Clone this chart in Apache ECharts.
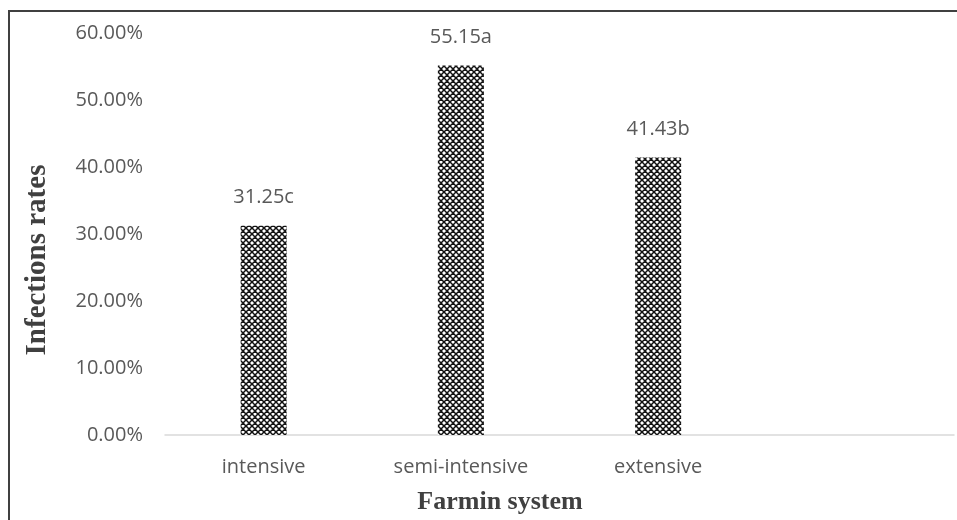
<!DOCTYPE html>
<html>
<head>
<meta charset="utf-8">
<style>
  html, body { margin: 0; padding: 0; background: #ffffff; }
  #chart { width: 957px; height: 520px; }
</style>
<script src="https://cdn.jsdelivr.net/npm/echarts@6/dist/echarts.min.js"></script>
</head>
<body>
<div id="chart"></div>
<script>
// Farming systems (the fourth slot is left empty on the axis)
const categories = ['intensive', 'semi-intensive', 'extensive', ''];
// Infection rate per system, in percent
const rates = [31.25, 55.15, 41.43, null];
// Significance letters shown after each value
const letters = ['c', 'a', 'b', ''];
// Value-axis ticks
const yTicks = [0, 10, 20, 30, 40, 50, 60];

// Diamond cross-hatch fill for the bars
function hatchPattern() {
  const c = document.createElement('canvas');
  c.width = 6; c.height = 6;
  const g = c.getContext('2d');
  g.fillStyle = '#ffffff';
  g.fillRect(0, 0, 6, 6);
  g.strokeStyle = '#111111';
  g.lineWidth = 1.5;
  g.beginPath();
  g.moveTo(-1, -1); g.lineTo(7, 7);
  g.moveTo(-1, 7); g.lineTo(7, -1);
  g.moveTo(-4, 2); g.lineTo(2, 8);
  g.moveTo(4, -4); g.lineTo(10, 2);
  g.moveTo(-4, 4); g.lineTo(4, -4);
  g.moveTo(2, 10); g.lineTo(10, 2);
  g.stroke();
  return c;
}

const textGrey = '#595959';
const chart = echarts.init(document.getElementById('chart'), null, { renderer: 'canvas' });

chart.setOption({
  animation: false,
  backgroundColor: '#ffffff',
  grid: { left: 165, right: 3, top: 33, bottom: 85, containLabel: false },
  xAxis: {
    type: 'category',
    data: categories,
    axisLine: { show: true, lineStyle: { color: '#d9d9d9', width: 1.5 } },
    axisTick: { show: false },
    axisLabel: { color: textGrey, fontFamily: 'Open Sans', fontSize: 20, margin: 22 },
    splitLine: { show: false }
  },
  yAxis: {
    type: 'value',
    min: yTicks[0],
    max: yTicks[yTicks.length - 1],
    interval: yTicks[1] - yTicks[0],
    axisLine: { show: false },
    axisTick: { show: false },
    splitLine: { show: false },
    axisLabel: {
      color: textGrey, fontFamily: 'Open Sans', fontSize: 20, margin: 22,
      formatter: v => v.toFixed(2) + '%'
    }
  },
  series: [{
    type: 'bar',
    data: rates,
    barWidth: 46,
    itemStyle: { color: { image: hatchPattern(), repeat: 'repeat' } },
    label: {
      show: true,
      position: 'top',
      distance: 18,
      color: textGrey,
      fontFamily: 'Open Sans',
      fontSize: 20,
      formatter: p => p.value == null ? '' : p.value.toFixed(2) + letters[p.dataIndex]
    }
  }],
  graphic: [
    {
      type: 'rect',
      shape: { x: 9, y: 11, width: 1000, height: 600 },
      style: { fill: 'none', stroke: '#404040', lineWidth: 2 },
      silent: true
    },
    {
      type: 'text',
      x: 38, y: 260,
      rotation: Math.PI / 2,
      style: {
        text: 'Infections rates',
        font: 'bold 29px "Liberation Serif"',
        fill: '#404040',
        textAlign: 'center',
        textVerticalAlign: 'middle'
      }
    },
    {
      type: 'text',
      x: 500, y: 502,
      style: {
        text: 'Farmin system',
        font: 'bold 26px "Liberation Serif"',
        fill: '#404040',
        textAlign: 'center',
        textVerticalAlign: 'middle'
      }
    }
  ]
});
</script>
</body>
</html>
